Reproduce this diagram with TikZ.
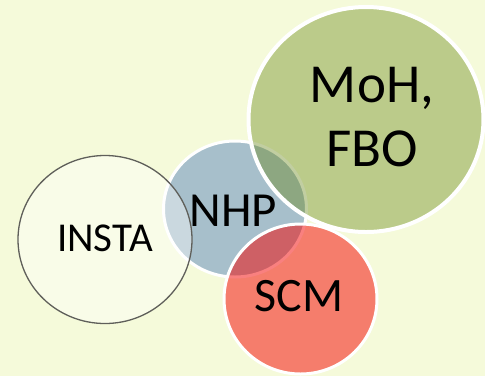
\documentclass[tikz,border=0pt]{standalone}
\usepackage{fontspec}
\setmainfont{Carlito}
\usetikzlibrary{shapes.geometric}

\definecolor{bgcol}{RGB}{245,250,218}
\definecolor{nhpcol}{RGB}{167,191,203}
\definecolor{mohcol}{RGB}{102,133,20}
\definecolor{scmcol}{RGB}{245,2,0}
\definecolor{rimcol}{RGB}{95,95,90}

\tikzset{
  blob/.style={ellipse, inner sep=0pt, draw=white, line width=3pt},
  blobtext/.style={inner sep=0pt, text=black, align=center},
}

\begin{document}
\begin{tikzpicture}[x=1pt,y=-1pt]
  \fill[bgcol] (0,0) rectangle (485,376);
  \useasboundingbox (0,0) rectangle (485,376);
  % circles
  \node[blob, fill=nhpcol, minimum width=143pt, minimum height=136pt] (nhp) at (235,209) {};
  \node[blob, draw=rimcol, line width=1.3pt, fill=white, fill opacity=0.4,
        minimum width=174pt, minimum height=168pt] (insta) at (105,239.5) {};
  \node[blob, line width=4pt, fill=mohcol, fill opacity=0.4,
        minimum width=235pt, minimum height=225pt] (moh) at (366,119.5) {};
  \node[blob, fill=scmcol, fill opacity=0.5, minimum width=153pt, minimum height=150pt] (scm) at (300.5,299) {};
  % labels
  \node[blobtext, font=\fontsize{41}{48}\selectfont] (instalabel) at (105,238.5) {INSTA};
  \node[blobtext, font=\fontsize{49}{58}\selectfont] (nhplabel) at (233.5,211) {NHP};
  \node[blobtext, font=\fontsize{55}{64}\selectfont] (mohlabel) at (372,117) {MoH,\\FBO};
  \node[blobtext, font=\fontsize{48}{56}\selectfont] (scmlabel) at (299,296.5) {SCM};
\end{tikzpicture}
\end{document}
